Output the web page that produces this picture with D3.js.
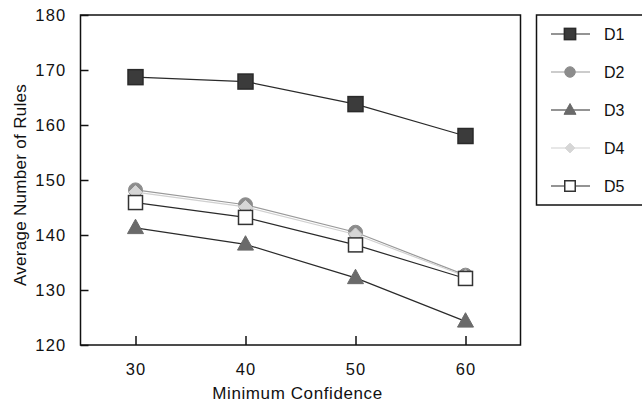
<!DOCTYPE html>
<html><head><meta charset="utf-8">
<script src="https://cdn.jsdelivr.net/npm/d3@7"></script>
<style>
html,body{margin:0;padding:0;background:#fff;}
text{font-family:"Liberation Sans",Arial,sans-serif;fill:#111;}
</style></head>
<body>
<svg id="chart" width="642" height="409"></svg>
<script>
const xValues = [30, 40, 50, 60];
const seriesNames = ["D1", "D2", "D3", "D4", "D5"];
const D1 = [168.7, 167.9, 163.8, 158.0];
const D2 = [148.2, 145.5, 140.5, 132.7];
const D3 = [141.3, 138.3, 132.2, 124.3];
const D4 = [147.8, 145.1, 140.1, 132.5];
const D5 = [145.9, 143.2, 138.2, 132.1];
const yTicks = [120, 130, 140, 150, 160, 170, 180];
const xTitle = "Minimum Confidence";
const yTitle = "Average Number of Rules";

const seriesData = [D1, D2, D3, D4, D5];
const styles = [
  {shape: "square", fill: "#3b3b3b", stroke: "#2a2a2a", line: "#2a2a2a", size: 15},
  {shape: "circle", fill: "#8c8c8c", stroke: "#8c8c8c", line: "#999", size: 14},
  {shape: "triangle", fill: "#6a6a6a", stroke: "#6a6a6a", line: "#2a2a2a", size: 16},
  {shape: "diamond", fill: "#d6d6d6", stroke: "#d6d6d6", line: "#d0d0d0", size: 13},
  {shape: "square", fill: "#fff", stroke: "#333", line: "#2a2a2a", size: 14}
];

const svg = d3.select("#chart");
const m = {left: 80.5, right: 520.5, top: 15, bottom: 345};
const x = d3.scaleLinear().domain([25, 65]).range([m.left, m.right]);
const y = d3.scaleLinear().domain([120, 180]).range([m.bottom, m.top]);

function drawMarker(g, st, cx, cy, s) {
  const size = s || st.size;
  if (st.shape === "square") {
    g.append("rect").attr("x", cx - size/2).attr("y", cy - size/2)
      .attr("width", size).attr("height", size)
      .attr("fill", st.fill).attr("stroke", st.stroke).attr("stroke-width", 1.5);
  } else if (st.shape === "circle") {
    g.append("circle").attr("cx", cx).attr("cy", cy).attr("r", size/2)
      .attr("fill", st.fill).attr("stroke", st.stroke);
  } else if (st.shape === "triangle") {
    const h = size * 0.9;
    g.append("path").attr("d", `M${cx},${cy - h*0.6}L${cx + size/2},${cy + h*0.4}L${cx - size/2},${cy + h*0.4}Z`)
      .attr("fill", st.fill).attr("stroke", st.stroke);
  } else if (st.shape === "diamond") {
    const r = size/2;
    g.append("path").attr("d", `M${cx},${cy - r}L${cx + r},${cy}L${cx},${cy + r}L${cx - r},${cy}Z`)
      .attr("fill", st.fill).attr("stroke", st.stroke);
  }
}

svg.append("rect").attr("x", m.left).attr("y", m.top)
  .attr("width", m.right - m.left).attr("height", m.bottom - m.top)
  .attr("fill", "none").attr("stroke", "#111").attr("stroke-width", 1.5);

const yAxis = d3.axisLeft(y).tickValues(yTicks).tickSize(-8).tickPadding(22).tickFormat(d3.format("d"));
const gy = svg.append("g").attr("transform", `translate(${m.left},0)`).call(yAxis);
gy.select(".domain").remove();
gy.selectAll("line").attr("stroke", "#111").attr("stroke-width", 1.5);
gy.selectAll("text").attr("font-size", 16.5).attr("letter-spacing", "1.2px").attr("fill", "#111")
  .attr("x", -14).attr("text-anchor", "end");

const xAxis = d3.axisBottom(x).tickValues(xValues).tickSize(-9).tickPadding(16).tickFormat(d3.format("d"));
const gx = svg.append("g").attr("transform", `translate(0,${m.bottom})`).call(xAxis);
gx.select(".domain").remove();
gx.selectAll("line").attr("stroke", "#111").attr("stroke-width", 1.5);
gx.selectAll("text").attr("font-size", 16.5).attr("letter-spacing", "1.2px").attr("fill", "#111")
  .attr("y", 30).attr("dy", 0);

svg.append("text").attr("x", (m.left + m.right)/2 - 3).attr("y", 399)
  .attr("text-anchor", "middle").attr("font-size", 17).attr("letter-spacing", "0.6px").text(xTitle);
svg.append("text").attr("transform", "translate(26,185) rotate(-90)")
  .attr("text-anchor", "middle").attr("font-size", 17).attr("letter-spacing", "0.3px").text(yTitle);

const line = d3.line().x((d, i) => x(xValues[i])).y(d => y(d));
[0, 1, 2, 3, 4].forEach(si => {
  const st = styles[si];
  const g = svg.append("g");
  g.append("path").datum(seriesData[si]).attr("d", line)
    .attr("fill", "none").attr("stroke", st.line).attr("stroke-width", 1.2);
  seriesData[si].forEach((v, i) => drawMarker(g, st, x(xValues[i]), y(v)));
});

const lg = svg.append("g");
lg.append("rect").attr("x", 536.5).attr("y", 15).attr("width", 120).attr("height", 190)
  .attr("fill", "#fff").attr("stroke", "#111").attr("stroke-width", 1.5);
seriesNames.forEach((name, i) => {
  const st = styles[i];
  const cy = 34 + i * 38;
  lg.append("line").attr("x1", 551).attr("x2", 590).attr("y1", cy).attr("y2", cy)
    .attr("stroke", st.line).attr("stroke-width", 1.2);
  drawMarker(lg, st, 570, cy, st.size * 0.75);
  lg.append("text").attr("x", 604).attr("y", cy + 6).attr("font-size", 16).text(name);
});
</script>
</body></html>
